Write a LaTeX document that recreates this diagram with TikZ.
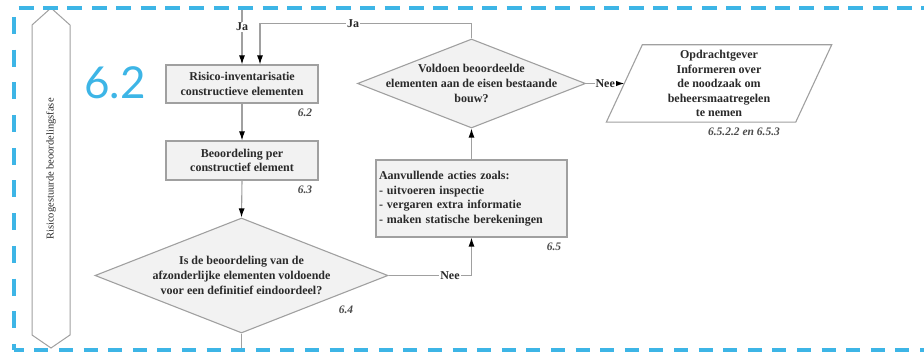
\documentclass[tikz,border=0pt]{standalone}
\usepackage{fontspec}
\setmainfont{Liberation Serif}
\newfontfamily\latofont{Lato}
\usetikzlibrary{shapes.geometric,arrows.meta,calc}
\definecolor{bordblue}{HTML}{3DB5E6}
\definecolor{linegray}{HTML}{A0A0A0}
\definecolor{boxfill}{HTML}{F2F2F2}
\definecolor{txt}{HTML}{2A2A2A}
\begin{document}
\begin{tikzpicture}[x=1pt,y=-1pt,
  font=\fontsize{12}{14.6}\selectfont\bfseries,
  procbox/.style={draw=linegray, line width=1.1pt, fill=boxfill, inner sep=0pt, text=txt, align=center},
  decbox/.style={diamond, draw=linegray, line width=1.1pt, fill=boxfill, inner sep=0pt},
  dtext/.style={text=txt, align=center, inner sep=0pt},
  refnum/.style={font=\fontsize{11.5}{13}\selectfont\bfseries\itshape, text=txt!85, inner sep=0pt},
  flow/.style={draw=linegray, line width=1.1pt},
  arr/.style={flow, -{Latex[length=9pt,width=6pt,color=black]}},
  lbl/.style={fill=white, inner sep=1pt, text=txt},
  bordline/.style={draw=bordblue, line width=3.2pt}
]
\useasboundingbox (0,0) rectangle (924,352);

% phase hexagon
\draw[draw=linegray, line width=1pt, fill=white]
  (51,8) -- (70,25) -- (70,335) -- (51,348) -- (32,335) -- (32,25) -- cycle;
\node[rotate=90, font=\fontsize{10.5}{12}\selectfont\mdseries, text=txt, inner sep=0pt] (phase) at (51,169) {Risicogestuurde beoordelingsfase};

% big number
\node[font=\latofont\fontsize{44}{44}\selectfont, text=bordblue, inner sep=0pt] (big) at (115,83) {6.2};

% boxes
\node[procbox, minimum width=152, minimum height=38] (b1) at (242,84) {Risico-inventarisatie\\constructieve elementen};
\node[procbox, minimum width=152, minimum height=39] (b2) at (242,160.5) {Beoordeling per\\constructief element};
\node[procbox, minimum width=191, minimum height=77, align=left, text width=185] (b3) at (471.5,198.5)
  {Aanvullende acties zoals:\\- uitvoeren inspectie\\- vergaren extra informatie\\- maken statische berekeningen};

% diamonds
\node[decbox, minimum width=293, minimum height=115] (d1) at (241.5,275.5) {};
\node[dtext] (d1t) at (d1.center) {Is de beoordeling van de\\afzonderlijke elementen voldoende\\voor een definitief eindoordeel?};
\node[decbox, minimum width=228, minimum height=89] (d2) at (471.5,83.5) {};
\node[dtext] (d2t) at (d2.center) {Voldoen beoordeelde\\elementen aan de eisen bestaande\\bouw?};

% parallelogram
\node[inner sep=0pt, minimum width=189, minimum height=77] (par) at (719,83.5) {};
\draw[flow, fill=white] ($(par.north west)+(18,0)$) -- ($(par.north east)+(18,0)$)
  -- ($(par.south east)+(-18,0)$) -- ($(par.south west)+(-18,0)$) -- cycle;
\node[inner sep=0pt, text=txt, align=center] (part) at (par.center)
  {Opdrachtgever\\Informeren over\\de noodzaak om\\beheersmaatregelen\\te nemen};

% reference numbers
\node[refnum] (r62) at (305,113) {6.2};
\node[refnum] (r63) at (305,190) {6.3};
\node[refnum] (r64) at (346,310) {6.4};
\node[refnum] (r65) at (554,247) {6.5};
\node[refnum] (r653) at (744,132) {6.5.2.2 en 6.5.3};

% connectors
\coordinate (jaTop) at (242,8);
\coordinate (botEnd) at (241.5,352);
\draw[arr] (jaTop) -- (b1.north) node[lbl, pos=0.33] {Ja};
\draw[arr] (b1.south) -- (b2.north);
\draw[arr] (b2.south) -- (d1.north);
\draw[flow] (d1.south) -- (botEnd);
\draw[arr] (d1.east) -| (b3.south) node[lbl, pos=0.37] {Nee};
\draw[arr] (b3.north) -- (d2.south);
\draw[arr] (d2.north) -- ++(0,-15) -| ([xshift=18pt]b1.north) node[lbl, pos=0.28] {Ja};
\draw[arr] (d2.east) -- (par.west) node[lbl, midway] {Nee};

% dashed border
\draw[bordline, dash pattern=on 15pt off 9.4pt, dash phase=19.8pt] (14,8) -- (924,8);
\draw[bordline, dash pattern=on 17pt off 15.7pt, dash phase=23.7pt] (14,8) -- (14,350);
\draw[bordline, dash pattern=on 14pt off 10.6pt, dash phase=4.2pt] (14,350) -- (924,350);
\end{tikzpicture}
\end{document}
